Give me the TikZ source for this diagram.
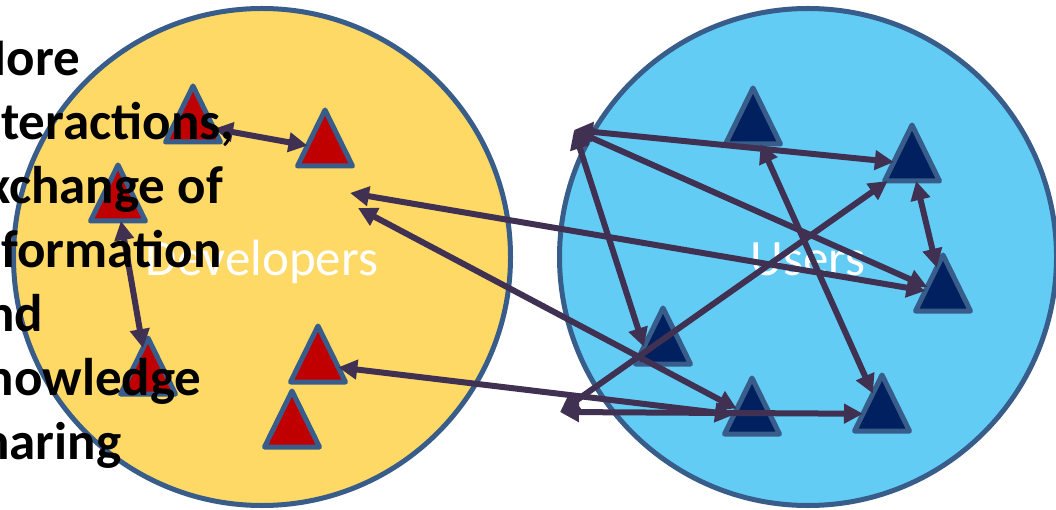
\documentclass[tikz,border=0pt]{standalone}
\usepackage{fontspec}
\setmainfont{Carlito}
\usepackage{tikz}
\usetikzlibrary{arrows.meta,positioning,shapes.geometric}
\definecolor{devyellow}{HTML}{FFD966}
\definecolor{userblue}{HTML}{63CCF5}
\definecolor{rimblue}{HTML}{385D8A}
\definecolor{devred}{HTML}{C00000}
\definecolor{usernavy}{HTML}{002060}
\definecolor{linkpurple}{HTML}{403152}

\begin{document}
\begin{tikzpicture}[
    x=1pt, y=-1pt,
    group/.style={circle, draw=rimblue, line width=5pt, minimum size=497pt, inner sep=0pt,
        text=white, text height=38pt, text depth=0pt, font=\fontsize{51}{60}\selectfont},
    person/.style={isosceles triangle, isosceles triangle stretches, shape border rotate=90,
        minimum width=55pt, minimum height=56pt, inner sep=0pt, outer sep=0pt,
        draw=rimblue, line width=5pt, line join=round, anchor=apex},
    dev/.style={person, fill=devred},
    user/.style={person, fill=usernavy},
    link/.style={{Triangle[length=19pt,width=19pt]}-{Triangle[length=19pt,width=19pt]},
        draw=linkpurple, line width=6pt}
]
\useasboundingbox (0,0) rectangle (1056,510);
\clip (0,0) rectangle (1056,510);

% the two groups
\node[group, fill=devyellow] (devs) at (262,257) {Developers};
\node[group, fill=userblue] (users) at (808,257) {Users};

% developers
\node[dev] (t1) at (193,86) {};
\node[dev] (t2) at (325,110) {};
\node[dev] (t3) at (118,165) {};
\node[dev] (t4) at (148,338) {};
\node[dev] (t5) at (318,326) {};
\node[dev] (t6) at (292,391) {};

% users
\node[user] (u1) at (753,88) {};
\node[user] (u2) at (912,125) {};
\node[user] (u3) at (943,255) {};
\node[user] (u4) at (663,308) {};
\node[user] (u5) at (752,378) {};
\node[user] (u6) at (882,375) {};

% loose ends of the links
\coordinate (devA) at (350,193);
\coordinate (devB) at (358,208);
\coordinate (hubtop) at (574,130);
\coordinate (hubbot) at (560,412);

\draw[link] (t1) -- (t2);
\draw[link] (t3) -- (t4);
\draw[link] (devA) -- (u3);
\draw[link] (devB) -- (u5);
\draw[link] (t5) -- (u5);
\draw[link] (hubtop) -- (u2);
\draw[link] (hubtop) -- (u3);
\draw[link] (hubtop) -- (u4.west);
\draw[link] (hubbot) -- (u2);
\draw[link] (hubbot) -- (u6);
\draw[link] (u1) -- (u6);
\draw[link] (u2) -- (u3);

\node[anchor=north west, align=left, inner sep=0pt,
    font=\bfseries\fontsize{53}{64}\selectfont] (note) at (-40,41)
    {More\\interactions,\\exchange of\\information\\and\\knowledge\\sharing};
\end{tikzpicture}
\end{document}
